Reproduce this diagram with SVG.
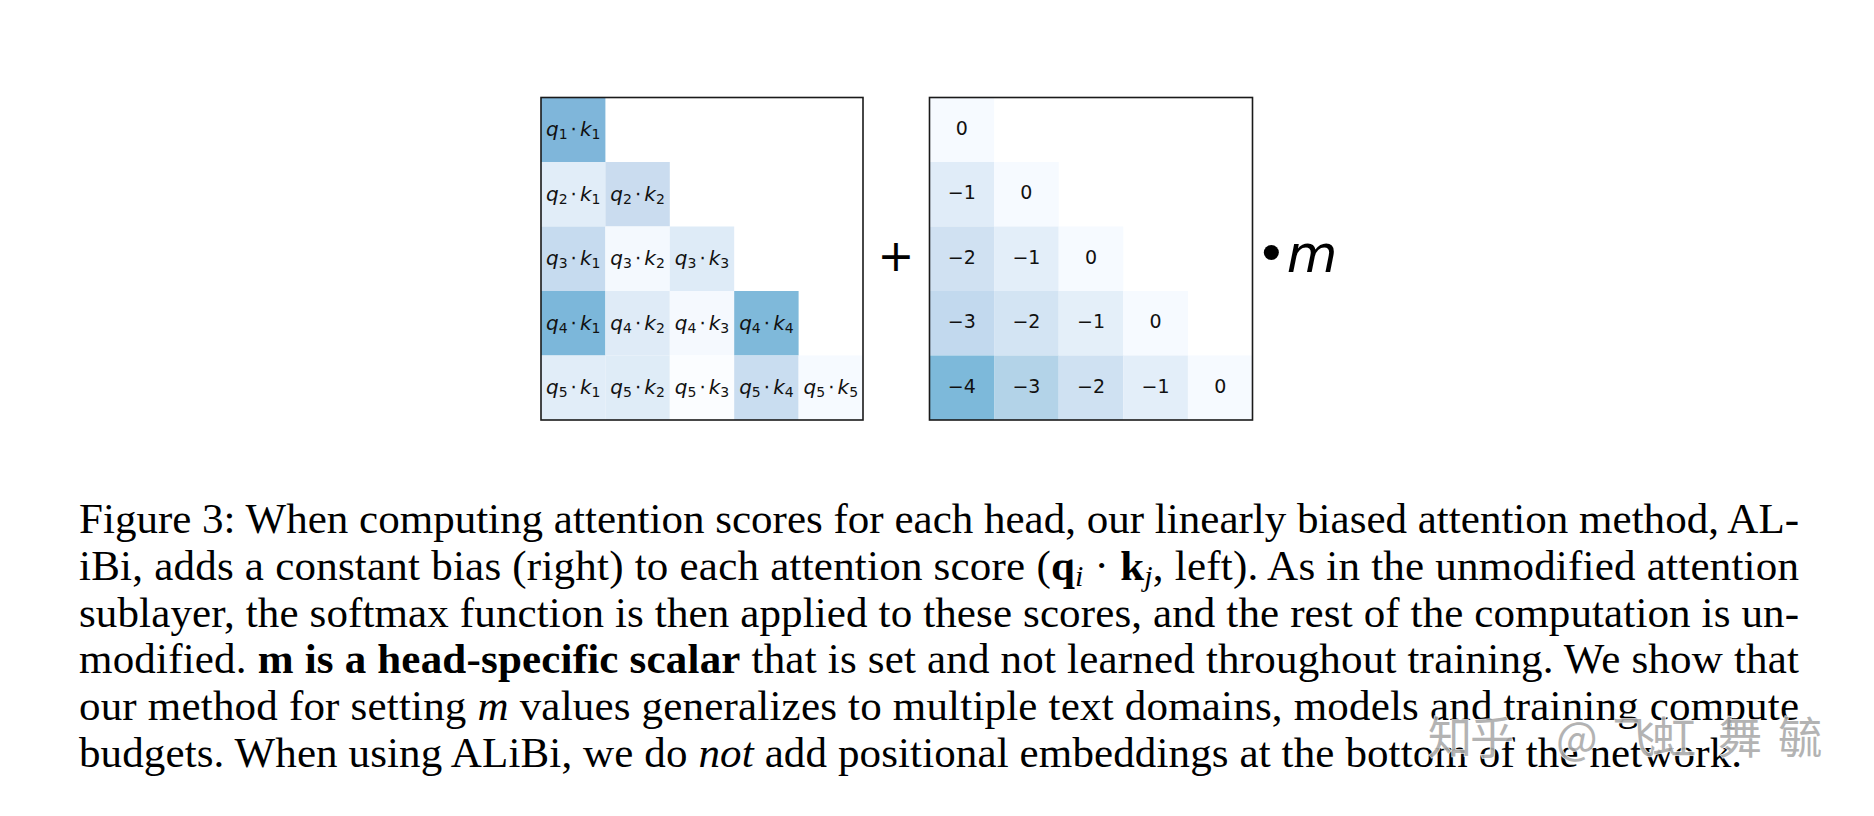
<svg xmlns="http://www.w3.org/2000/svg" width="1874" height="816" viewBox="0 0 1874 816">
<style>
.box{fill:none;stroke:#1a1a1a;stroke-width:1.6}
.qk{font-family:"DejaVu Sans",sans-serif;font-size:20px;fill:#111;text-anchor:middle}
.qk .i{font-style:italic}
.qk .s{font-size:14px}
.num{font-family:"DejaVu Sans",sans-serif;font-size:19px;fill:#111;text-anchor:middle}
.op{font-family:"DejaVu Sans",sans-serif;fill:#000}
.cap{font-family:"Liberation Serif","Times New Roman",serif;font-size:43px;fill:#000}
.b{font-weight:bold}
.it{font-style:italic}
.sb{font-size:30px;font-style:italic}
.wm{font-family:"Noto Sans CJK SC","DejaVu Sans",sans-serif;font-size:44px;fill:#ababab;stroke:#ffffff;stroke-width:1.5;paint-order:stroke}
</style>

<g id="left-matrix">
  <g id="left-cells">
    <rect x="541" y="97.5" width="64.4" height="64.5" fill="#7fb6da"/>
    <rect x="541" y="162" width="64.4" height="64.5" fill="#e1edf8"/>
    <rect x="605.4" y="162" width="64.4" height="64.5" fill="#cadcef"/>
    <rect x="541" y="226.5" width="64.4" height="64.5" fill="#c6dbef"/>
    <rect x="605.4" y="226.5" width="64.4" height="64.5" fill="#f4f9fe"/>
    <rect x="669.8" y="226.5" width="64.4" height="64.5" fill="#deebf7"/>
    <rect x="541" y="291" width="64.4" height="64.5" fill="#7cb7da"/>
    <rect x="605.4" y="291" width="64.4" height="64.5" fill="#dfebf7"/>
    <rect x="669.8" y="291" width="64.4" height="64.5" fill="#f5f9fe"/>
    <rect x="734.2" y="291" width="64.4" height="64.5" fill="#7fb9da"/>
    <rect x="541" y="355.5" width="64.4" height="64.5" fill="#e1edf8"/>
    <rect x="605.4" y="355.5" width="64.4" height="64.5" fill="#dfecf7"/>
    <rect x="669.8" y="355.5" width="64.4" height="64.5" fill="#fbfdff"/>
    <rect x="734.2" y="355.5" width="64.4" height="64.5" fill="#c9ddf0"/>
    <rect x="798.6" y="355.5" width="64.4" height="64.5" fill="#f6faff"/>
  </g>
  <g id="left-labels">
    <text class="qk" x="573.2" y="136"><tspan class="i">q</tspan><tspan class="s" dy="3">1</tspan><tspan dy="-3" dx="3">⋅</tspan><tspan class="i" dx="3">k</tspan><tspan class="s" dy="3">1</tspan></text>
    <text class="qk" x="573.2" y="200.5"><tspan class="i">q</tspan><tspan class="s" dy="3">2</tspan><tspan dy="-3" dx="3">⋅</tspan><tspan class="i" dx="3">k</tspan><tspan class="s" dy="3">1</tspan></text>
    <text class="qk" x="637.6" y="200.5"><tspan class="i">q</tspan><tspan class="s" dy="3">2</tspan><tspan dy="-3" dx="3">⋅</tspan><tspan class="i" dx="3">k</tspan><tspan class="s" dy="3">2</tspan></text>
    <text class="qk" x="573.2" y="265"><tspan class="i">q</tspan><tspan class="s" dy="3">3</tspan><tspan dy="-3" dx="3">⋅</tspan><tspan class="i" dx="3">k</tspan><tspan class="s" dy="3">1</tspan></text>
    <text class="qk" x="637.6" y="265"><tspan class="i">q</tspan><tspan class="s" dy="3">3</tspan><tspan dy="-3" dx="3">⋅</tspan><tspan class="i" dx="3">k</tspan><tspan class="s" dy="3">2</tspan></text>
    <text class="qk" x="702" y="265"><tspan class="i">q</tspan><tspan class="s" dy="3">3</tspan><tspan dy="-3" dx="3">⋅</tspan><tspan class="i" dx="3">k</tspan><tspan class="s" dy="3">3</tspan></text>
    <text class="qk" x="573.2" y="329.5"><tspan class="i">q</tspan><tspan class="s" dy="3">4</tspan><tspan dy="-3" dx="3">⋅</tspan><tspan class="i" dx="3">k</tspan><tspan class="s" dy="3">1</tspan></text>
    <text class="qk" x="637.6" y="329.5"><tspan class="i">q</tspan><tspan class="s" dy="3">4</tspan><tspan dy="-3" dx="3">⋅</tspan><tspan class="i" dx="3">k</tspan><tspan class="s" dy="3">2</tspan></text>
    <text class="qk" x="702" y="329.5"><tspan class="i">q</tspan><tspan class="s" dy="3">4</tspan><tspan dy="-3" dx="3">⋅</tspan><tspan class="i" dx="3">k</tspan><tspan class="s" dy="3">3</tspan></text>
    <text class="qk" x="766.4" y="329.5"><tspan class="i">q</tspan><tspan class="s" dy="3">4</tspan><tspan dy="-3" dx="3">⋅</tspan><tspan class="i" dx="3">k</tspan><tspan class="s" dy="3">4</tspan></text>
    <text class="qk" x="573.2" y="394"><tspan class="i">q</tspan><tspan class="s" dy="3">5</tspan><tspan dy="-3" dx="3">⋅</tspan><tspan class="i" dx="3">k</tspan><tspan class="s" dy="3">1</tspan></text>
    <text class="qk" x="637.6" y="394"><tspan class="i">q</tspan><tspan class="s" dy="3">5</tspan><tspan dy="-3" dx="3">⋅</tspan><tspan class="i" dx="3">k</tspan><tspan class="s" dy="3">2</tspan></text>
    <text class="qk" x="702" y="394"><tspan class="i">q</tspan><tspan class="s" dy="3">5</tspan><tspan dy="-3" dx="3">⋅</tspan><tspan class="i" dx="3">k</tspan><tspan class="s" dy="3">3</tspan></text>
    <text class="qk" x="766.4" y="394"><tspan class="i">q</tspan><tspan class="s" dy="3">5</tspan><tspan dy="-3" dx="3">⋅</tspan><tspan class="i" dx="3">k</tspan><tspan class="s" dy="3">4</tspan></text>
    <text class="qk" x="830.8" y="394"><tspan class="i">q</tspan><tspan class="s" dy="3">5</tspan><tspan dy="-3" dx="3">⋅</tspan><tspan class="i" dx="3">k</tspan><tspan class="s" dy="3">5</tspan></text>
  </g>
  <rect class="box" x="541" y="97.5" width="322" height="322.5"/>
</g>

<g id="plus">
  <text class="op" x="896" y="271" font-size="44" text-anchor="middle">+</text>
</g>

<g id="right-matrix">
  <g id="right-cells">
    <rect x="929.5" y="97.5" width="64.6" height="64.5" fill="#f6faff"/>
    <rect x="929.5" y="162" width="64.6" height="64.5" fill="#e0ecf8"/>
    <rect x="994.1" y="162" width="64.6" height="64.5" fill="#f6faff"/>
    <rect x="929.5" y="226.5" width="64.6" height="64.5" fill="#d0e1f2"/>
    <rect x="994.1" y="226.5" width="64.6" height="64.5" fill="#e3eef9"/>
    <rect x="1058.7" y="226.5" width="64.6" height="64.5" fill="#f6faff"/>
    <rect x="929.5" y="291" width="64.6" height="64.5" fill="#c2d9ee"/>
    <rect x="994.1" y="291" width="64.6" height="64.5" fill="#d3e4f3"/>
    <rect x="1058.7" y="291" width="64.6" height="64.5" fill="#e4eff9"/>
    <rect x="1123.3" y="291" width="64.6" height="64.5" fill="#f6faff"/>
    <rect x="929.5" y="355.5" width="64.6" height="64.5" fill="#7db9da"/>
    <rect x="994.1" y="355.5" width="64.6" height="64.5" fill="#b3d3e8"/>
    <rect x="1058.7" y="355.5" width="64.6" height="64.5" fill="#cfe1f2"/>
    <rect x="1123.3" y="355.5" width="64.6" height="64.5" fill="#e3eef9"/>
    <rect x="1187.9" y="355.5" width="64.6" height="64.5" fill="#f6faff"/>
  </g>
  <g id="right-labels">
    <text class="num" x="961.8" y="134.5">0</text>
    <text class="num" x="961.8" y="199">−1</text>
    <text class="num" x="1026.4" y="199">0</text>
    <text class="num" x="961.8" y="263.5">−2</text>
    <text class="num" x="1026.4" y="263.5">−1</text>
    <text class="num" x="1091" y="263.5">0</text>
    <text class="num" x="961.8" y="328">−3</text>
    <text class="num" x="1026.4" y="328">−2</text>
    <text class="num" x="1091" y="328">−1</text>
    <text class="num" x="1155.6" y="328">0</text>
    <text class="num" x="961.8" y="392.5">−4</text>
    <text class="num" x="1026.4" y="392.5">−3</text>
    <text class="num" x="1091" y="392.5">−2</text>
    <text class="num" x="1155.6" y="392.5">−1</text>
    <text class="num" x="1220.2" y="392.5">0</text>
  </g>
  <rect class="box" x="929.5" y="97.5" width="323" height="322.5"/>
</g>

<g id="times-m">
  <text class="op" x="1256" y="272" font-size="52">•<tspan font-style="italic">m</tspan></text>
</g>

<g id="caption">
  <text class="cap" x="79" y="533" textLength="1720" lengthAdjust="spacing">Figure 3: When computing attention scores for each head, our linearly biased attention method, AL-</text>
  <text class="cap" x="79" y="580" textLength="1720" lengthAdjust="spacing">iBi, adds a constant bias (right) to each attention score (<tspan class="b">q</tspan><tspan class="sb" dy="6">i</tspan><tspan dy="-6"> · </tspan><tspan class="b">k</tspan><tspan class="sb" dy="6">j</tspan><tspan dy="-6">, left). As in the unmodified attention</tspan></text>
  <text class="cap" x="79" y="627" textLength="1720" lengthAdjust="spacing">sublayer, the softmax function is then applied to these scores, and the rest of the computation is un-</text>
  <text class="cap" x="79" y="673" textLength="1720" lengthAdjust="spacing">modified. <tspan class="b">m is a head-specific scalar</tspan> that is set and not learned throughout training. We show that</text>
  <text class="cap" x="79" y="720" textLength="1720" lengthAdjust="spacing">our method for setting <tspan class="it">m</tspan> values generalizes to multiple text domains, models and training compute</text>
  <text class="cap" x="79" y="767" textLength="1663" lengthAdjust="spacing">budgets. When using ALiBi, we do <tspan class="it">not</tspan> add positional embeddings at the bottom of the network.</text>
</g>

<g id="watermark" opacity="0.9">
  <text class="wm" x="1428 1470 1520 1556 1612 1652 1718 1778" y="754">知乎 @飞虹舞毓</text>
</g>
</svg>
